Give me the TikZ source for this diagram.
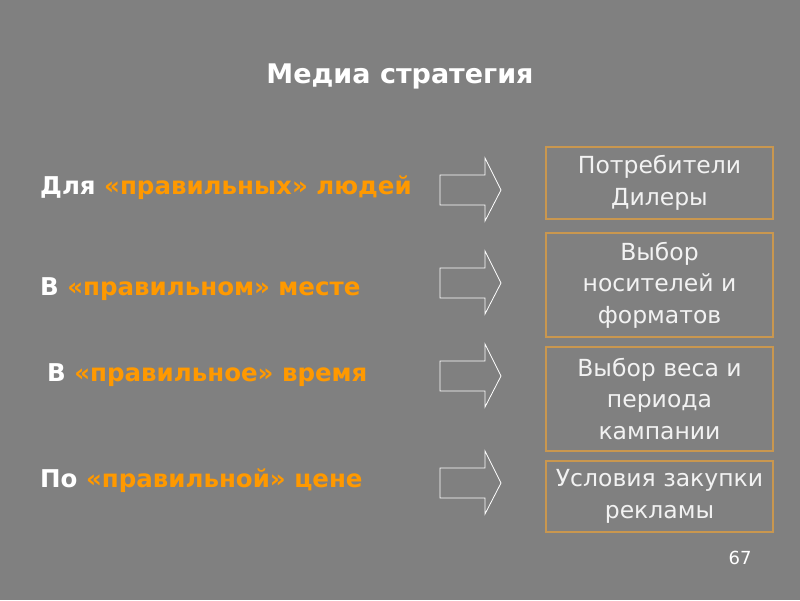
\documentclass[tikz,border=0pt]{standalone}
\usepackage{fontspec}
\setmainfont{DejaVu Sans}
\definecolor{slide}{HTML}{808080}
\definecolor{accent}{HTML}{FF9900}
\definecolor{frameline}{HTML}{C9974F}
\begin{document}
\begin{tikzpicture}[x=1pt,y=-1pt,
    label/.style={anchor=west,text=white,font=\bfseries\fontsize{24.5}{28}\selectfont,inner sep=0pt},
    box/.style={draw=frameline,line width=1.2pt,fill=slide,text=white!95!black,align=center,
      minimum width=227pt,inner sep=0pt,font=\fontsize{23.5}{31.5}\selectfont}]
  \fill[slide] (0,0) rectangle (800,600);
  \useasboundingbox (0,0) rectangle (800,600);
  % title
  \node[text=white,font=\bfseries\fontsize{27}{31}\selectfont] (title) at (400,76) {Медиа стратегия};
  % left column
  \node[label] (who) at (40,188) {Для \textcolor{accent}{«правильных» людей}};
  \node[label] (where) at (40,289) {В \textcolor{accent}{«правильном» месте}};
  \node[label] (when) at (47,375) {В \textcolor{accent}{«правильное» время}};
  \node[label] (price) at (40,481) {По \textcolor{accent}{«правильной» цене}};
  % block arrows
  \foreach \y in {190,283,376,483}{
    \draw[white,line width=0.8pt] (440,\y-15) -- (485,\y-15) -- (485,\y-32) -- (501,\y)
      -- (485,\y+31) -- (485,\y+15) -- (440,\y+15) -- cycle;
  }
  % right column
  \node[box,minimum height=72pt] (people) at (659.5,183) {Потребители\\Дилеры};
  \node[box,minimum height=104pt] (media) at (659.5,285) {Выбор\\носителей и\\форматов};
  \node[box,minimum height=104pt] (weight) at (659.5,399) {Выбор веса и\\периода\\кампании};
  \node[box,minimum height=71pt] (buying) at (659.5,496.5) {Условия закупки\\рекламы};
  % page number
  \node[text=white,font=\fontsize{18}{20}\selectfont] (page) at (740,558) {67};
\end{tikzpicture}
\end{document}
